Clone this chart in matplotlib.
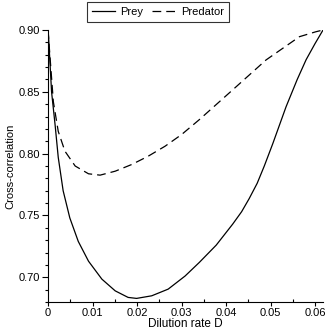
import matplotlib
matplotlib.use('Agg')
import matplotlib.pyplot as plt
from matplotlib.ticker import MultipleLocator, FormatStrFormatter

plt.rcParams['font.family'] = ['Liberation Sans', 'DejaVu Sans']

# values
prey_D = [0.0, 0.0001, 0.0008, 0.0016, 0.0023, 0.0034, 0.0049, 0.0068, 0.0091,
          0.0121, 0.0151, 0.0180, 0.0199, 0.0233, 0.0270, 0.0308, 0.0340,
          0.0378, 0.0415, 0.0435, 0.0452, 0.0470, 0.0486, 0.0505, 0.0535,
          0.0560, 0.0580, 0.0600, 0.0618]
prey_r = [0.90, 0.896, 0.850, 0.823, 0.797, 0.770, 0.748, 0.729, 0.713,
          0.6985, 0.689, 0.6837, 0.6829, 0.685, 0.6904, 0.701, 0.712,
          0.726, 0.743, 0.753, 0.7636, 0.776, 0.790, 0.808, 0.838,
          0.860, 0.876, 0.889, 0.90]

pred_D = [0.0, 0.0012, 0.0023, 0.0038, 0.0061, 0.0091, 0.0117, 0.0151, 0.0188,
          0.0225, 0.0263, 0.0300, 0.0340, 0.0415, 0.0490, 0.0565, 0.0602, 0.0618]
pred_r = [0.90, 0.842, 0.818, 0.802, 0.790, 0.7837, 0.7826, 0.7858, 0.7912,
          0.7979, 0.806, 0.8154, 0.8275, 0.8516, 0.8758, 0.8946, 0.8986, 0.90]

fig = plt.figure(figsize=(3.32, 3.32), dpi=100)
ax = fig.add_axes([0.1446, 0.0904, 0.8284, 0.8192])

ax.plot(prey_D, prey_r, color='black', lw=0.9, label='Prey')
ax.plot(pred_D, pred_r, color='black', lw=0.9, ls=(0, (7, 4)), label='Predator')

ax.set_xlim(0, 0.0618)
ax.set_ylim(0.68, 0.90)
ax.xaxis.set_major_locator(MultipleLocator(0.01))
ax.xaxis.set_minor_locator(MultipleLocator(0.005))
ax.yaxis.set_major_locator(MultipleLocator(0.05))
ax.yaxis.set_minor_locator(MultipleLocator(0.01))
ax.xaxis.set_major_formatter(matplotlib.ticker.FuncFormatter(
    lambda v, p: '0' if abs(v) < 1e-9 else '%.2f' % v))
ax.yaxis.set_major_formatter(FormatStrFormatter('%.2f'))

for s in ['top', 'right']:
    ax.spines[s].set_visible(False)
ax.tick_params(axis='x', which='major', direction='out', length=3, width=0.8, labelsize=8, pad=1)
ax.tick_params(axis='x', which='minor', direction='in', length=2, width=0.8)
ax.tick_params(axis='y', which='major', direction='out', length=4, width=0.8, labelsize=8, pad=2)
ax.tick_params(axis='y', which='minor', direction='out', length=2.5, width=0.8)

ax.set_xlabel('Dilution rate D', fontsize=8.5, labelpad=0)
ax.set_ylabel('Cross-correlation', fontsize=8, labelpad=2)

leg = fig.legend(loc='upper center', bbox_to_anchor=(0.476, 0.994), ncol=2, fontsize=8,
                 frameon=True, fancybox=False, edgecolor='black', handlelength=2.1,
                 columnspacing=0.8, handletextpad=0.5, borderpad=0.45, borderaxespad=0)
leg.get_frame().set_linewidth(0.8)

fig.savefig('out.png', dpi=100)
